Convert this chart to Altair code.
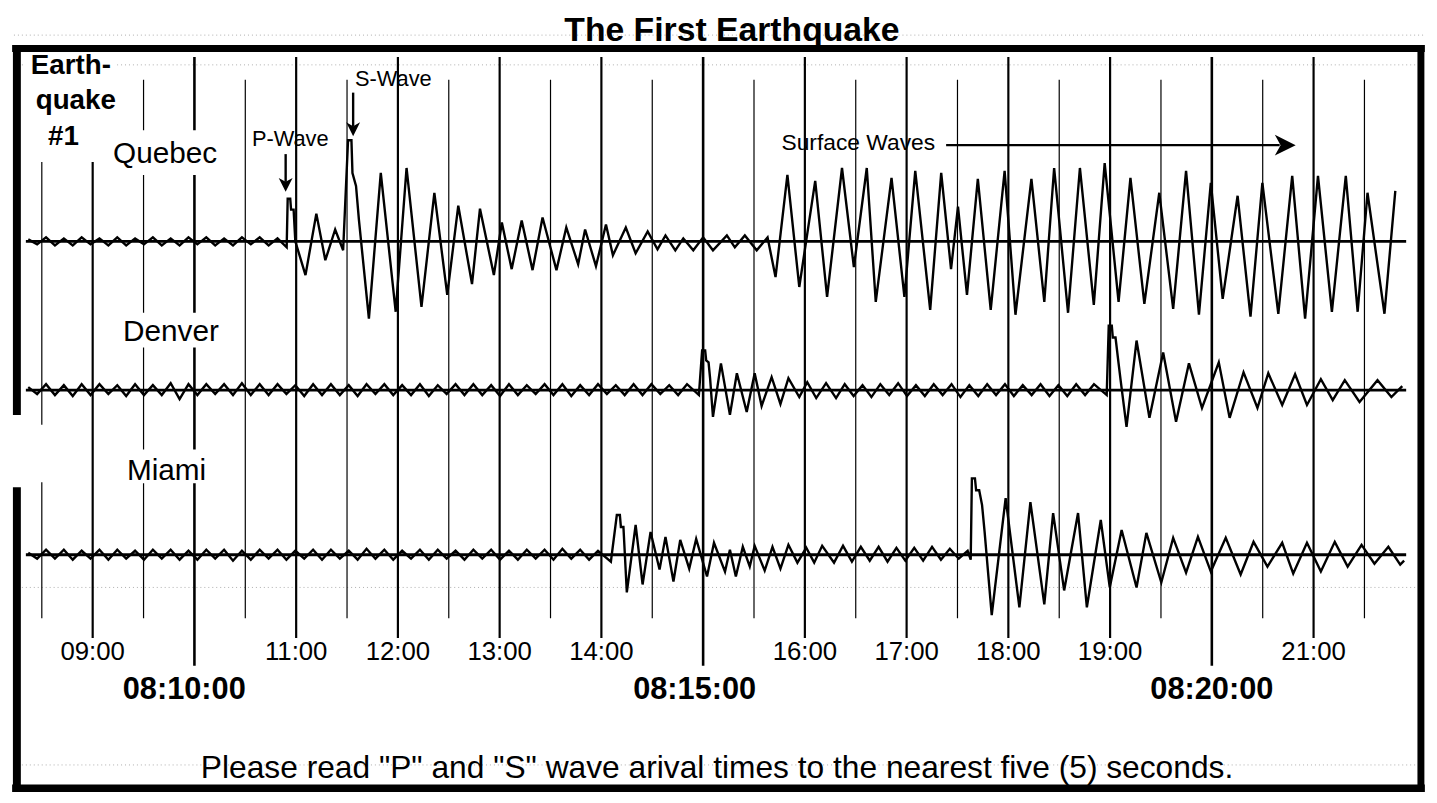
import altair as alt
import numpy as np
import pandas as pd

# ------------------------------------------------------------------
# Values
# time axis: seconds after 08:10:00 ; amplitude: trace units, up = +
# ------------------------------------------------------------------
NOISE_STEP = 5.25  # half period of the background wiggle (s)

quebec_noise_start = -98.0
quebec_noise = [2, -3, 4, -4, 3, -4, 4, -3, 3, -4, 4, -4, 3, -3, 4, -4, 3, -4, 4, -3,
                4, -4, 3, -4, 4, -3, 4, -4, 3]
quebec_t = [54.4, 55.0, 56.5, 57.0, 58.5, 59.5, 65.5, 71.9, 77.2, 83.0,
            87.7, 90.6, 92.6, 93.2, 95.3, 97.0, 102.9, 109.9, 118.7, 125.1,
            133.9, 141.5, 149.1, 155.6, 163.7, 168.4, 176.6, 181.3, 187.1, 193.0,
            199.4, 205.3, 213.5, 219.3, 226.3, 230.4, 236.8, 242.7, 246.8, 254.4,
            260.2, 267.3, 273.1, 277.8, 283.6, 288.3, 294.2, 300.0, 305.8, 314.0,
            318.7, 324.6, 331.6, 338.0, 342.7, 349.7, 356.7, 366.1, 373.1, 381.9,
            388.9, 396.5, 401.8, 411.1, 418.7, 425.1, 433.9, 440.4, 446.2, 450.3,
            455.6, 462.0, 469.6, 477.8, 484.2, 493.6, 501.2, 507.0, 515.2, 522.2,
            530.4, 536.8, 545.0, 552.0, 560.2, 569.0, 577.2, 584.8, 592.4, 599.4,
            606.4, 615.2, 622.8, 629.8, 639.2, 647.4, 655.0, 662.6, 670.8, 679.0,
            686.0, 691.8, 701.8, 708.2]
quebec_a = [-6, 43, 43, 32, 32, 0, -34, 28, -19, 12,
            -9, 102, 102, 69, 56, 22, -78, 69, -71, 74,
            -66, 49, -54, 36, -43, 33, -34, 19, -28, 21,
            -29, 24, -29, 14, -23, 12, -25, 17, -14, 14,
            -12, 10, -8, 6, -9, 3, -9, 4, -9, 6,
            -6, 6, -9, 4, -36, 67, -46, 61, -56, 74,
            -26, 74, -61, 64, -56, 71, -69, 69, -28, 35,
            -54, 63, -69, 71, -74, 63, -61, 74, -72, 74,
            -64, 79, -61, 64, -63, 49, -68, 71, -74, 59,
            -58, 46, -76, 59, -73, 66, -78, 66, -71, 66,
            -71, 49, -73, 51]

denver_noise_start = -98.0
denver_noise = [3, -4, 6, -5, 5, -6, 6, -5, 6, -4,
                5, -6, 6, -5, 5, -5, 7, -9, 6, -5,
                6, -4, 6, -5, 7, -5, 6, -5, 6, -4,
                5, -6, 6, -5, 6, -5, 5, -6, 6, -4,
                6, -5, 5, -5, 6, -6, 5, -4, 6, -5,
                6, -5, 5, -6, 6, -5, 5, -4, 6, -5,
                6, -6, 5, -5, 6, -4, 5, -5, 6, -5,
                6, -4, 5, -5, 6]
denver_p_t = [297.5, 299.4, 301.2, 301.8, 303.2, 304.1, 305.8, 310.5, 315.8, 319.9,
              325.7, 330.4, 334.5, 340.4, 345.6, 350.3, 356.7, 361.4, 366.7, 372.5,
              378.4]
denver_p_a = [-5, 40, 40, 30, 28, 12, -27, 27, -25, 17,
              -22, 17, -16, 13, -14, 12, -7, 8, -8, 7,
              -8]
denver_mid_start = 383.5
denver_mid_noise = [6, -6, 5, -7, 6, -5, 7, -6, 5, -6,
                    6, -5, 6, -7, 5, -6, 6, -5, 6, -6,
                    5, -5, 6, -6, 5, -6, 6, -5, 6]
denver_s_t = [538.0, 539.2, 541.0, 541.6, 543.2, 545.0, 546.2, 549.7, 555.6, 563.2,
              571.3, 578.9, 586.5, 594.2, 604.1, 610.5, 618.7, 626.9, 633.3, 641.5,
              649.1, 656.1, 664.3, 671.3, 678.4, 687.1, 697.7, 705.9, 712.3]
denver_s_a = [-5, 65, 65, 53, 53, 27, 10, -37, 50, -28,
              38, -32, 27, -18, 28, -28, 18, -18, 17, -15,
              16, -15, 11, -10, 10, -12, 10, -7, 4]

miami_noise_start = -98.0
miami_noise = [2, -4, 5, -4, 5, -5, 4, -4, 5, -5,
               5, -4, 4, -5, 5, -4, 5, -5, 4, -5,
               5, -4, 5, -6, 4, -5, 5, -4, 5, -5,
               4, -4, 5, -5, 5, -4, 4, -5, 6, -4,
               5, -5, 4, -4, 5, -5, 5, -4, 4, -5,
               5, -4, 5, -5, 4, -5, 5, -4, 5, -5,
               6, -4, 5, -5, 4]
miami_p_t = [245.6, 249.1, 250.9, 251.5, 253.0, 255.0, 260.2, 264.3, 269.0, 274.3,
             277.8, 282.5, 286.5, 291.8, 295.9, 302.3, 306.4, 312.9, 315.8, 319.3,
             323.4, 327.5, 330.4, 336.3, 340.9, 345.6, 350.3, 355.6, 360.8, 365.5,
             370.2, 377.2]
miami_p_a = [-7, 40, 40, 28, 28, -38, 30, -30, 23, -15,
             18, -27, 15, -14, 16, -22, 12, -17, 5, -22,
             8, -12, 9, -16, 8, -14, 10, -8, 7, -8,
             9, -8]
miami_mid_start = 382.5
miami_mid_noise = [9, -7, 8, -6, 8, -7, 7, -6, 7, -6, 8, -5, 6, -4, 4]
miami_s_t = [457.8, 458.5, 460.3, 461.0, 462.8, 464.5, 466.0, 470.2, 478.4, 486.5,
             493.0, 501.2, 506.4, 512.9, 521.1, 526.3, 534.5, 539.8, 546.8, 555.6,
             561.4, 570.2, 577.2, 584.8, 591.8, 599.4, 608.2, 617.0, 624.6, 632.8,
             641.5, 648.0, 656.1, 664.3, 672.5, 680.1, 688.3, 695.9, 704.1, 711.1,
             713.4]
miami_s_a = [-5, 77, 77, 65, 65, 50, 23, -61, 57, -53,
             53, -50, 42, -36, 42, -53, 35, -33, 25, -33,
             22, -28, 17, -18, 18, -17, 17, -20, 13, -12,
             12, -19, 12, -17, 13, -12, 10, -9, 8, -10,
             -6]

grid_times = list(range(-90, 691, 30))
minute_label_t = [-60, 60, 120, 180, 240, 360, 420, 480, 540, 660]
minute_labels = ["09:00", "11:00", "12:00", "13:00", "14:00",
                 "16:00", "17:00", "18:00", "19:00", "21:00"]
major_label_t = [0, 300, 600]
major_labels = ["08:10:00", "08:15:00", "08:20:00"]

# ------------------------------------------------------------------
# Layout / style
# ------------------------------------------------------------------
W, H = 1421, 787
T_MIN, T_MAX = -106.43, 724.56
Y_TOP, Y_BOT = 8, 795
BASE = {"Quebec": 240, "Denver": 390, "Miami": 556}
FONT = "Liberation Sans"
MAJOR_LABEL_SHIFT = [-6.0, -5.0, 0.0]

xs = alt.Scale(domain=[T_MIN, T_MAX], nice=False, zero=False)
ys = alt.Scale(domain=[Y_TOP, Y_BOT], nice=False, zero=False, reverse=True)


def X(f):
    return alt.X(f, type="quantitative", scale=xs, axis=None)


def Y(f):
    return alt.Y(f, type="quantitative", scale=ys, axis=None)


# ---- traces ----
rows = []


def add_noise(name, start, amps):
    for i, a in enumerate(amps):
        rows.append(dict(station=name, t=start + i * NOISE_STEP, y=BASE[name] - a, order=len(rows)))


def add_pts(name, ts, amps):
    for t, a in zip(ts, amps):
        rows.append(dict(station=name, t=t, y=BASE[name] - a, order=len(rows)))


add_noise("Quebec", quebec_noise_start, quebec_noise)
add_pts("Quebec", quebec_t, quebec_a)
add_noise("Denver", denver_noise_start, denver_noise)
add_pts("Denver", denver_p_t, denver_p_a)
add_noise("Denver", denver_mid_start, denver_mid_noise)
add_pts("Denver", denver_s_t, denver_s_a)
add_noise("Miami", miami_noise_start, miami_noise)
add_pts("Miami", miami_p_t, miami_p_a)
add_noise("Miami", miami_mid_start, miami_mid_noise)
add_pts("Miami", miami_s_t, miami_s_a)
traces = pd.DataFrame(rows)

trace_layer = alt.Chart(traces).mark_line(color="black", strokeWidth=2.4).encode(
    x=X("t"), y=Y("y"), detail="station:N", order="order:Q")

# ---- reference baselines ----
base_df = pd.DataFrame({"y": list(BASE.values()), "t1": -99.4, "t2": 714.6})
base_layer = alt.Chart(base_df).mark_rule(color="black", strokeWidth=3).encode(
    x=X("t1"), x2="t2", y=Y("y"))

# ---- time grid ----
g = pd.DataFrame({"t": grid_times})
g["kind"] = np.where(g.t % 300 == 0, "major", np.where(g.t % 60 == 0, "minute", "half"))
g["top"] = g.kind.map({"major": 54, "minute": 54, "half": 77})
g["bottom"] = g.kind.map({"major": 668, "minute": 640, "half": 620})
g["w"] = g.kind.map({"major": 2.6, "minute": 2.2, "half": 1.2})
grid_layer = alt.Chart(g).mark_rule(color="black").encode(
    x=X("t"), y=Y("top"), y2="bottom", strokeWidth=alt.StrokeWidth("w:Q", scale=None))

# ---- faint scan lines ----
scan = pd.DataFrame({"y": [32, 62, 589, 768], "t1": T_MIN, "t2": T_MAX})
scan_layer = alt.Chart(scan).mark_rule(color="#9a9a9a", strokeWidth=1, strokeDash=[1, 3], opacity=0.8).encode(
    x=X("t1"), x2="t2", y=Y("y"))

# ---- white masks where labels interrupt the grid ----
masks = pd.DataFrame([
    [-101.0, -45.6, 50, 160],
    [-50.3, 17.5, 128, 173],
    [-45.6, 18.7, 312, 347],
    [-43.9, 8.8, 450, 484],
    [-94.7, -84.8, 425, 483],
], columns=["t1", "t2", "y1", "y2"])
mask_layer = alt.Chart(masks).mark_rect(color="white").encode(
    x=X("t1"), x2="t2", y=Y("y1"), y2="y2")

# ---- frame ----
frame = pd.DataFrame([
    dict(t1=-107.5, t2=725.6, y1=45.5, y2=45.5, w=7),
    dict(t1=723.3, t2=723.3, y1=42, y2=795, w=7),
    dict(t1=-107.5, t2=725.6, y1=791.5, y2=791.5, w=7.5),
    dict(t1=-104.7, t2=-104.7, y1=42, y2=415, w=8),
    dict(t1=-104.7, t2=-104.7, y1=488, y2=795, w=8),
])
frame_layer = alt.Chart(frame).mark_rule(color="black").encode(
    x=X("t1"), x2="t2", y=Y("y1"), y2="y2", strokeWidth=alt.StrokeWidth("w:Q", scale=None))


# ---- texts ----
def text_layer(df, size, weight="normal", align="left"):
    return alt.Chart(df).mark_text(font=FONT, fontSize=size, fontWeight=weight, align=align,
                                   baseline="alphabetic", color="black").encode(
        x=X("t"), y=Y("y"), text="label:N")


title_df = pd.DataFrame({"t": [317.0], "y": [38], "label": ["The First Earthquake"]})
eq_df = pd.DataFrame({"t": [-96.5, -93.6], "y": [71, 107], "label": ["Earth-", "quake"]})
eq1_df = pd.DataFrame({"t": [-77.2], "y": [143], "label": ["#1"]})
station_df = pd.DataFrame({"t": [-48.0, -42.1, -39.8], "y": [161, 340, 481],
                           "label": ["Quebec", "Denver", "Miami"]})
wave_df = pd.DataFrame({"t": [33.9, 94.7], "y": [144, 83], "label": ["P-Wave", "S-Wave"]})
surf_df = pd.DataFrame({"t": [346.2], "y": [148], "label": ["Surface Waves"]})
min_df = pd.DataFrame({"t": minute_label_t, "y": 662, "label": minute_labels})
maj_df = pd.DataFrame({"t": [t + s for t, s in zip(major_label_t, MAJOR_LABEL_SHIFT)], "y": 701,
                       "label": major_labels})
note_df = pd.DataFrame({"t": [308.2], "y": [781],
                        "label": ['Please read "P" and "S" wave arival times to the nearest five (5) seconds.']})

texts = [
    text_layer(title_df, 34, "bold", "center"),
    text_layer(eq_df, 28, "bold"),
    text_layer(eq1_df, 28, "bold", "center"),
    text_layer(station_df, 30),
    text_layer(wave_df, 22),
    text_layer(surf_df, 23),
    text_layer(min_df, 26, "normal", "center"),
    text_layer(maj_df, 31, "bold", "center"),
    text_layer(note_df, 32, "normal", "center"),
]

# ---- arrows ----
shafts = pd.DataFrame([
    dict(t1=53.8, t2=53.8, y1=152, y2=180),
    dict(t1=93.6, t2=93.6, y1=90, y2=124),
    dict(t1=443.3, t2=640.0, y1=143, y2=143),
])
shaft_layer = alt.Chart(shafts).mark_rule(color="black", strokeWidth=2.4).encode(
    x=X("t1"), x2="t2", y=Y("y1"), y2="y2")
down_heads = pd.DataFrame({"t": [53.8, 93.6], "y": [183, 127]})
down_layer = alt.Chart(down_heads).mark_point(
    shape="M-1,-1L0,1L1,-1L0,-0.45Z", filled=True, size=196, color="black", opacity=1, strokeWidth=0
).encode(x=X("t"), y=Y("y"))
right_head = pd.DataFrame({"t": [643.3], "y": [143]})
right_layer = alt.Chart(right_head).mark_point(
    shape="M-1,-1L1,0L-1,1L-0.45,0Z", filled=True, size=441, color="black", opacity=1, strokeWidth=0
).encode(x=X("t"), y=Y("y"))

chart = alt.layer(
    scan_layer, grid_layer, mask_layer, base_layer, trace_layer, frame_layer,
    shaft_layer, down_layer, right_layer, *texts
).properties(width=W, height=H, padding=0, background="white").configure_view(stroke=None)

chart.save("out.html", embed_options={"renderer": "svg", "actions": False})
